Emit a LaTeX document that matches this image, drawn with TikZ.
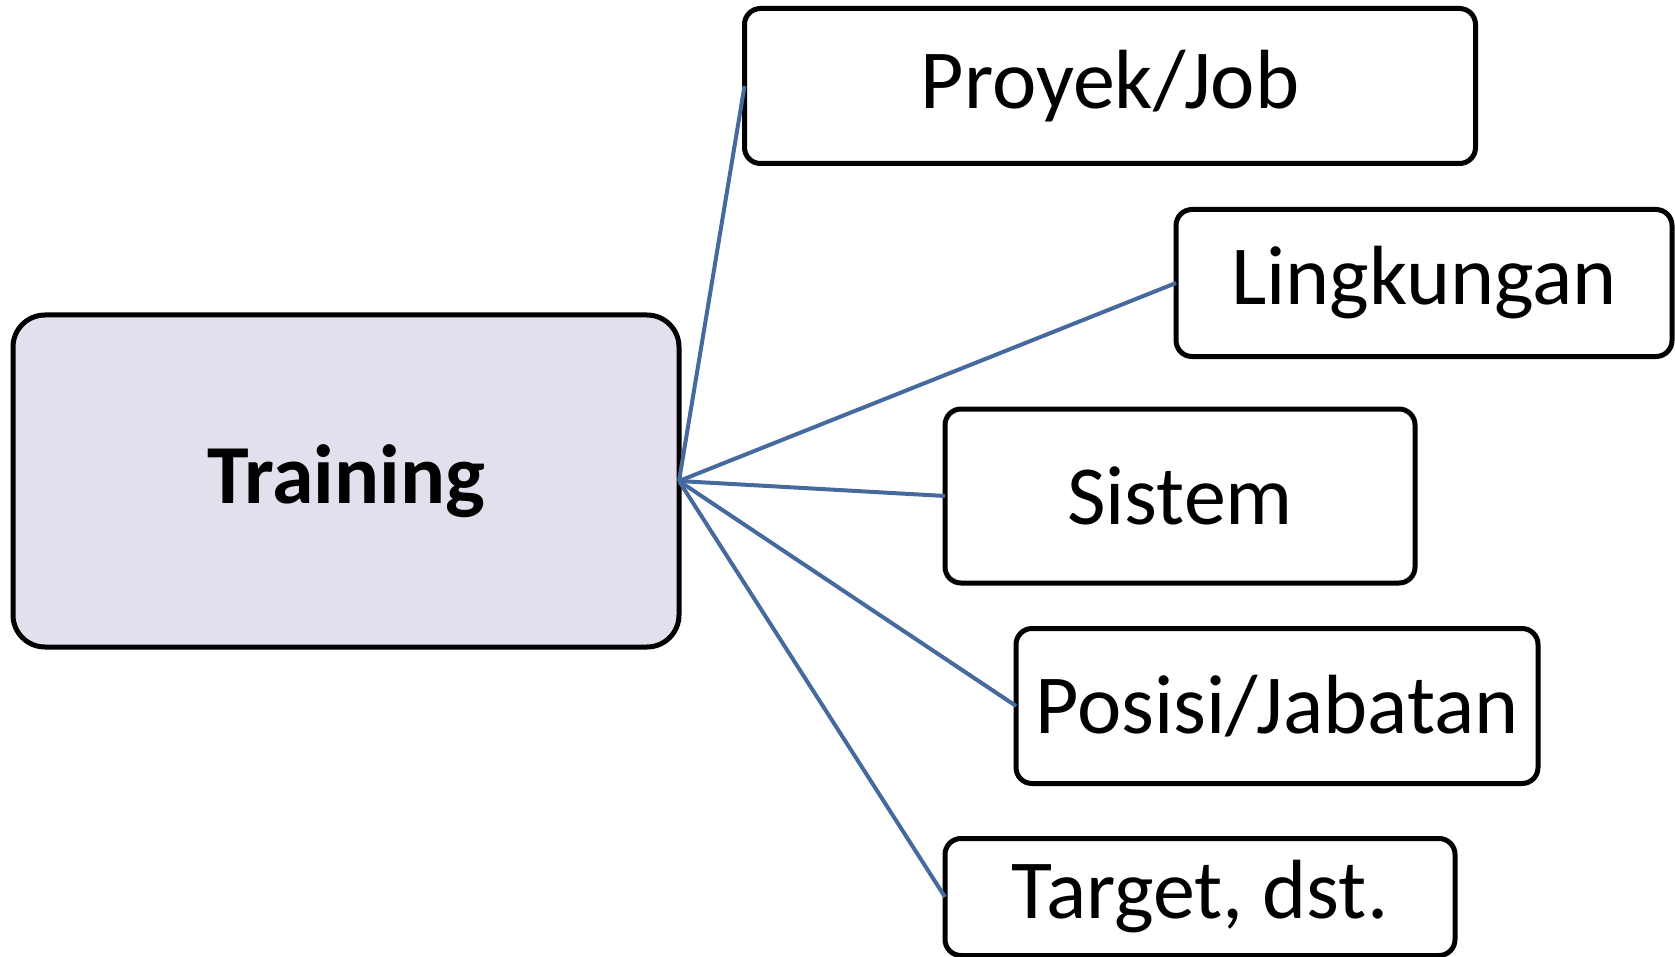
\documentclass[tikz,border=0pt]{standalone}
\usepackage{fontspec}
\setmainfont{Carlito}
\usetikzlibrary{positioning}
\definecolor{garis}{RGB}{70,106,158}
\definecolor{ungu}{RGB}{228,223,236}

\begin{document}
\begin{tikzpicture}[
        x=1pt, y=-1pt,
        kotak/.style = {rectangle, draw, line width=5pt, rounded corners=16pt, outer sep=0pt,
                        inner sep=0pt, font=\fontsize{84}{90}\selectfont},
        cabang/.style = {draw=garis, line width=4pt}
    ]
    \useasboundingbox (0,0) rectangle (1675,957);

    %Pusat
    \node (training)[kotak, fill=ungu, rounded corners=32pt, minimum width=666pt, minimum height=332pt,
        font=\fontsize{84}{90}\selectfont\bfseries] at(346,481){Training};

    %Kotak
    \node (proyek)[kotak, minimum width=731pt, minimum height=155pt] at(1110,86){Proyek/Job};
    \node (lingkungan)[kotak, minimum width=496pt, minimum height=147pt] at(1424,283){Lingkungan};
    \node (sistem)[kotak, minimum width=470pt, minimum height=174pt] at(1180,496){Sistem};
    \node (posisi)[kotak, minimum width=522pt, minimum height=155pt] at(1277,706){Posisi/Jabatan};
    \node (target)[kotak, minimum width=510pt, minimum height=117pt] at(1200,897){Target, dst.};

    %Garis
    \draw[cabang] (training.east) -- (proyek.west);
    \draw[cabang] (training.east) -- (lingkungan.west);
    \draw[cabang] (training.east) -- (sistem.west);
    \draw[cabang] (training.east) -- (posisi.west);
    \draw[cabang] (training.east) -- (target.west);

\end{tikzpicture}
\end{document}
